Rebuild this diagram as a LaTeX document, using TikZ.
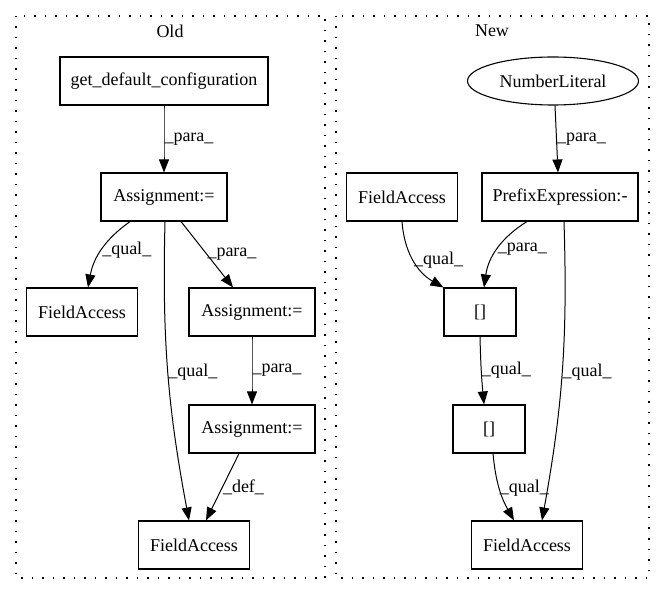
\documentclass[tikz,border=0pt]{standalone}
\usepackage{fontspec}
\setmainfont{Liberation Serif}
\usetikzlibrary{shapes.geometric,arrows.meta}

\tikzstyle{box}=[draw,rectangle,line width=1.1pt,minimum height=48pt,inner sep=0pt,font=\fontsize{18}{20}\selectfont]
\tikzstyle{oval}=[draw,ellipse,line width=1.1pt,minimum height=48pt,minimum width=171pt,inner sep=0pt,font=\fontsize{18}{20}\selectfont]
\tikzstyle{edgelabel}=[right,inner sep=0pt,font=\fontsize{18}{20}\selectfont]
\tikzstyle{title}=[inner sep=0pt,font=\fontsize{18}{20}\selectfont]
\tikzstyle{arrowdecorate}=[-{Triangle[length=13pt,width=10pt]},line width=1pt]
\tikzstyle{cluster}=[draw,line width=1.5pt,dash pattern=on 1.5pt off 9pt]

\begin{document}
\begin{tikzpicture}[x=1pt,y=-1pt]
    \useasboundingbox (0,0) rectangle (665,596);

    % clusters
    \draw[cluster] (16,16) rectangle (325,578);
    \draw[cluster] (336,16) rectangle (649,578);
    \node[title] (old) at (170,31) {Old};
    \node[title] (new) at (492,31) {New};

    \foreach \nodename/\x/\y/\w/\txt in {
      gdc/164/81/208/get\_default\_configuration,
      oa1/164/197/126/Assignment:=,
      ofa1/82/312/111/FieldAccess,
      oa2/252/312/126/Assignment:=,
      oa3/252/429/126/Assignment:=,
      ofa2/194/545/111/FieldAccess,
      npe/560/197/156/PrefixExpression:-,
      nfa1/402/197/111/FieldAccess,
      nb1/480/312/72/{[]},
      nb2/489/429/72/{[]},
      nfa2/527/545/111/FieldAccess}
    {
      \node[box, minimum width=\w pt] (\nodename) at (\x,\y) {\txt};
    }
    \node[oval] (nnl) at (553,81) {NumberLiteral};

    %edges
    \foreach \startnode/\fx/\endnode/\tx/\angle/\weight in {
      gdc.south/0/oa1.north/0/0/para,
      oa1.south/-34/ofa1.north/6/-22/qual,
      oa1.south/17/oa2.north/-19/0/para,
      oa1.south/1/ofa2.north/-5/-6/qual,
      oa2.south/0/oa3.north/0/0/para,
      oa3.south/-13/ofa2.north/12/0/def,
      nnl.south/2/npe.north/-2/0/para,
      nfa1.south/0/nb1.north west/0/-28/qual,
      npe.south/-33/nb1.north/4/-25/para,
      npe.south/4/nfa2.north/15/6/qual,
      nb1.south/0/nb2.north/-5/-2/qual,
      nb2.south/4/nfa2.north/-13/-12/qual}
    {
      \draw[arrowdecorate] ([xshift=\fx pt]\startnode) to[bend left=\angle] node[edgelabel] {\_\weight\_} ([xshift=\tx pt]\endnode);
    }
\end{tikzpicture}
\end{document}
